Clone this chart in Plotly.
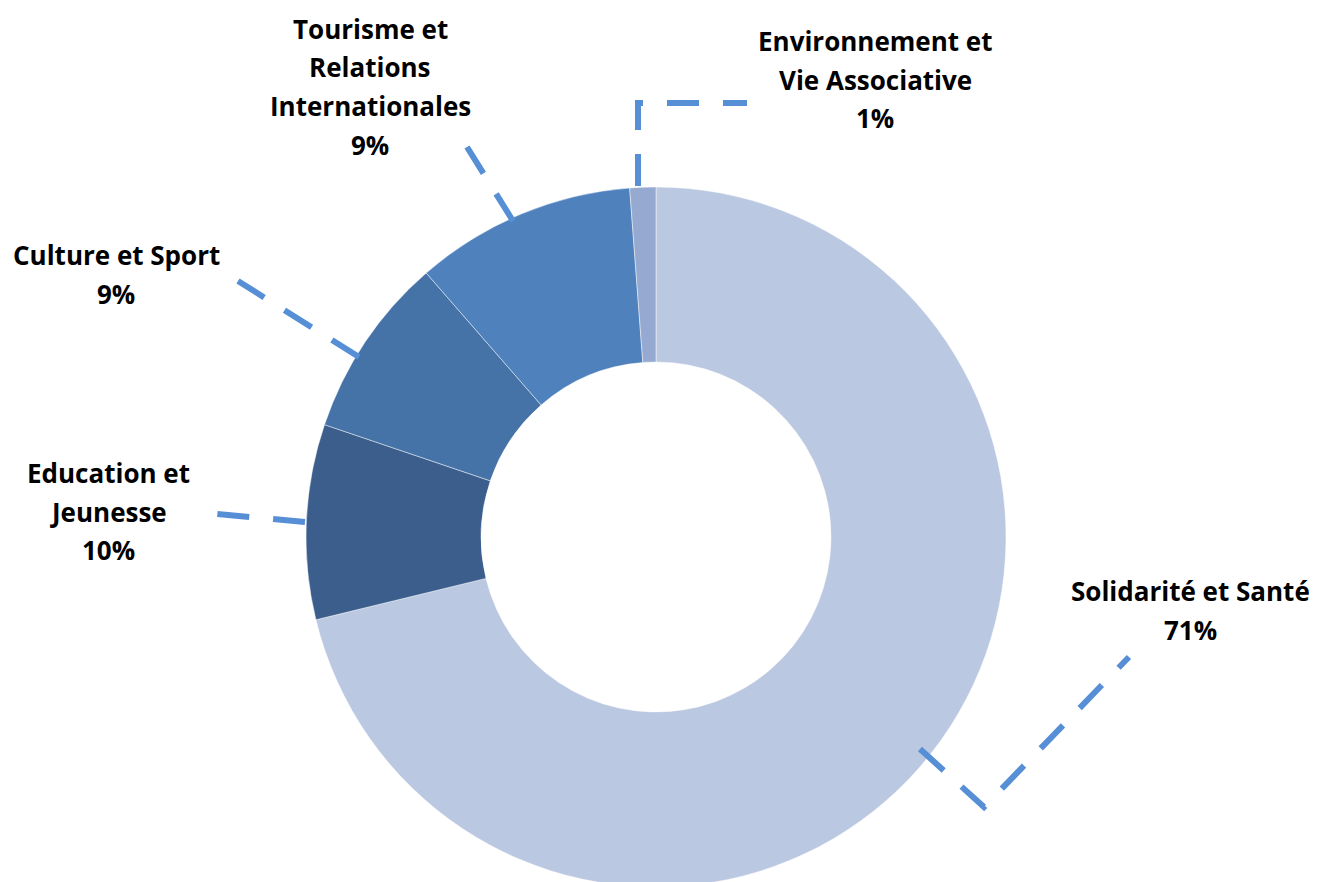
import plotly.graph_objects as go

# ---- data ----
categories = ["Solidarité et Santé", "Education et Jeunesse", "Culture et Sport",
              "Tourisme et Relations Internationales", "Environnement et Vie Associative"]
values = [71.2, 9.0, 8.4, 10.2, 1.2]
pct_labels = ["71%", "10%", "9%", "9%", "1%"]
label_lines = [
    ["Solidarité et Santé"],
    ["Education et", "Jeunesse"],
    ["Culture et Sport"],
    ["Tourisme et", "Relations", "Internationales"],
    ["Environnement et", "Vie Associative"],
]
colors = ["#BBC8E1", "#3B5E8C", "#4573A7", "#4F81BD", "#96AAD1"]

# ---- layout constants ----
W, H = 1317, 882
OFF = 8            # page offset of the plot div (body margin)
LINE_COLOR = "#568FD6"
FONT = "Open Sans"
FS = 26
LINE_GAP = 38.5

# label block: (center x px, first line center y px) in screen pixels
label_pos = [(1190, 591), (108, 473), (116, 255), (370, 29), (875, 41)]
# leader line paths in screen px
leaders = [
    [(920, 749), (984, 807), (1129, 657)],
    [(305, 522), (217, 514)],
    [(359, 357), (238, 281)],
    [(513, 221), (467, 147)],
    [(638, 186), (638, 103), (747, 103)],
]
CX, CY, R = 656, 537, 350


def px(x):
    return (x - OFF) / W


def py(y):
    return 1 - (y - OFF) / H


fig = go.Figure(go.Pie(
    labels=categories,
    values=values,
    hole=0.5,
    sort=False,
    direction="clockwise",
    rotation=0,
    marker=dict(colors=colors, line=dict(color="rgba(255,255,255,0.45)", width=1)),
    textinfo="none",
    hoverinfo="label+percent",
    showlegend=False,
    domain=dict(x=[px(CX - R), px(CX + R)], y=[py(CY + R), py(CY - R)]),
))

annotations = []
for lines, pct, (cx, cy) in zip(label_lines, pct_labels, label_pos):
    for i, t in enumerate(lines + [pct]):
        annotations.append(dict(
            x=px(cx), y=py(cy + i * LINE_GAP), xref="paper", yref="paper",
            text="<b>%s</b>" % t, showarrow=False, xanchor="center", yanchor="middle",
            font=dict(family=FONT, size=FS, color="#000000"),
        ))

shapes = []
for pts in leaders:
    path = "M " + " L ".join("%f,%f" % (px(x), py(y)) for x, y in pts)
    shapes.append(dict(type="path", path=path, xref="paper", yref="paper",
                       line=dict(color=LINE_COLOR, width=6, dash="32px,24px")))

fig.update_layout(
    width=W, height=H,
    margin=dict(l=0, r=0, t=0, b=0),
    paper_bgcolor="white", plot_bgcolor="white",
    annotations=annotations,
    shapes=shapes,
)

fig.write_html("out.html")
